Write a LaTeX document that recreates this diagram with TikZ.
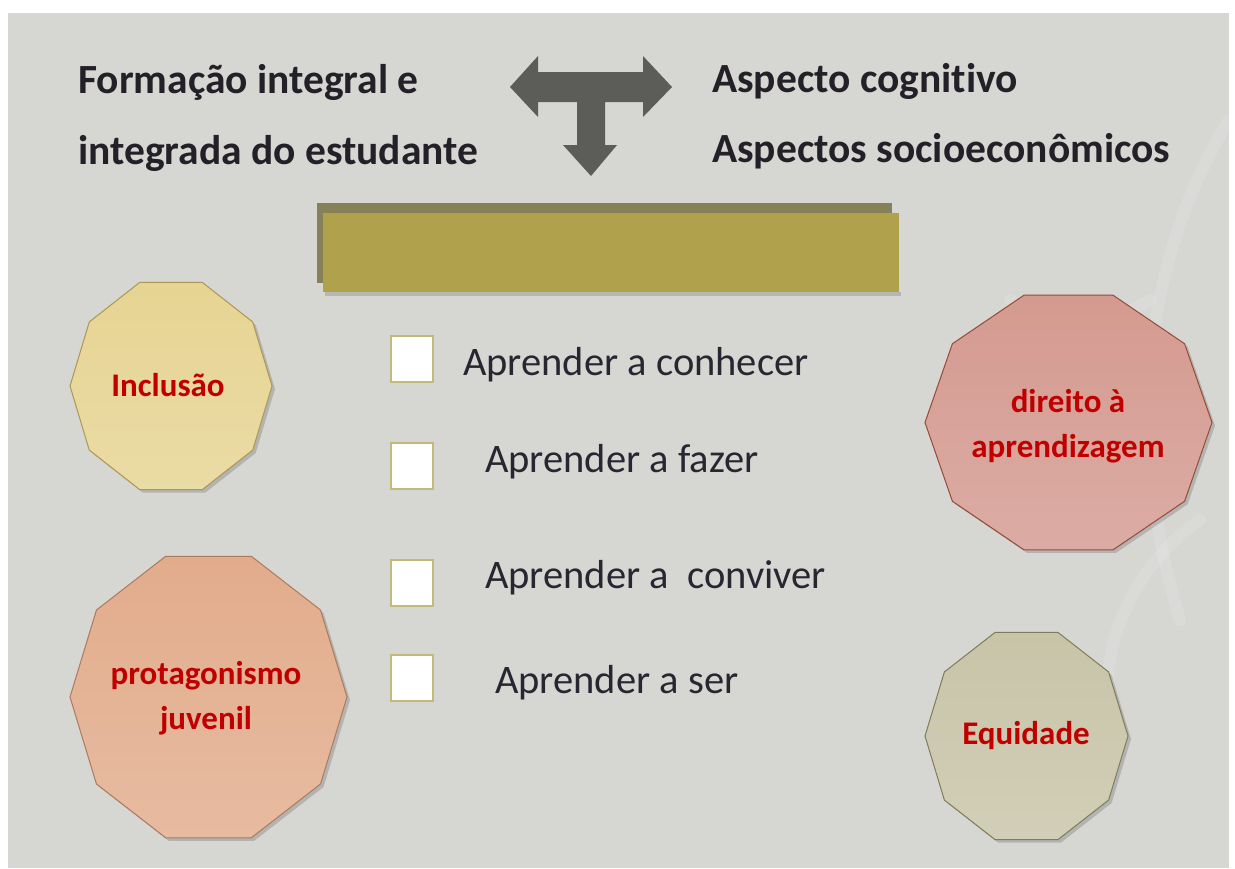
\documentclass[tikz,border=0pt]{standalone}
\usepackage{fontspec}
\setmainfont[Ligatures=NoCommon]{Carlito}
\definecolor{bgcol}{RGB}{214,214,211}
\definecolor{textdark}{RGB}{35,32,40}
\definecolor{itemdark}{RGB}{40,38,48}
\definecolor{arrowgray}{RGB}{92,92,88}
\definecolor{barback}{RGB}{134,129,88}
\definecolor{barfront}{RGB}{176,161,76}
\definecolor{labelred}{RGB}{192,0,0}
\definecolor{boxline}{RGB}{195,186,122}
\definecolor{incA}{RGB}{230,212,146}\definecolor{incL}{RGB}{172,152,84}
\definecolor{dirA}{RGB}{212,154,144}\definecolor{dirL}{RGB}{150,75,55}
\definecolor{proA}{RGB}{226,172,140}\definecolor{proL}{RGB}{172,122,92}
\definecolor{equA}{RGB}{200,196,168}\definecolor{equL}{RGB}{128,124,90}
\tikzset{
  headtext/.style={font=\fontsize{41.5}{49}\selectfont\bfseries, text=textdark, anchor=base west, inner sep=0pt},
  itemtext/.style={font=\fontsize{40.5}{48}\selectfont, text=itemdark, anchor=base west, inner sep=0pt},
  checkbox/.style={draw=boxline, line width=1.5pt, fill=white, minimum width=42pt, minimum height=46pt, anchor=north west, inner sep=0pt},
  polylabel/.style={font=\fontsize{33}{45}\selectfont\bfseries, text=labelred, align=center, inner sep=0pt},
}
\newcommand\mydecagon[6]{%
  \fill[black,opacity=0.16] plot[samples at={0,36,...,324}] ({#1+3+#3*cos(\x)},{#2+3+#4*sin(\x)}) -- cycle;
  \draw[line width=1pt, draw=#6, top color=#5, bottom color=#5!82!white] plot[samples at={0,36,...,324}] ({#1+#3*cos(\x)},{#2+#4*sin(\x)}) -- cycle;}
\begin{document}
\begin{tikzpicture}[x=1pt,y=-1pt]
\useasboundingbox (0,0) rectangle (1235,868);
\fill[white] (0,0) rectangle (1235,868);
\fill[bgcol] (8,13) rectangle (1229,868);
% faint light branches on the right
\begin{scope}[white,opacity=0.12,line width=12pt,line cap=round]
  \draw (1229,120) .. controls (1150,250) and (1120,420) .. (1180,620);
  \draw (1150,300) .. controls (1100,330) and (1060,330) .. (1010,300);
  \draw (1200,520) .. controls (1140,560) and (1100,640) .. (1110,700);
\end{scope}
% top texts
\node[headtext] (f1) at (78,93) {Formação integral e};
\node[headtext] (f2) at (78,164) {integrada do estudante};
\node[headtext] (a1) at (712,92) {Aspecto cognitivo};
\node[headtext] (a2) at (712,162) {Aspectos socioeconômicos};
% T-shaped three-way arrow
\fill[arrowgray] (510,87) -- (538,56) -- (538,72) -- (643,72) -- (643,56) -- (672,87)
  -- (643,117) -- (643,102) -- (605,102) -- (605,145) -- (617,145) -- (591,176)
  -- (563,145) -- (577,145) -- (577,102) -- (538,102) -- (538,117) -- cycle;
% bar
\fill[barback] (317,203) rectangle (892,283);
\fill[black,opacity=0.15] (325,292) rectangle (901,296);
\node[fill=barfront, minimum width=576pt, minimum height=79pt, anchor=north west, inner sep=0pt] (bar) at (323,213) {};
% decagons
\mydecagon{171}{386}{101}{109}{incA}{incL}
\mydecagon{1068.5}{422.5}{143.5}{134}{dirA}{dirL}
\mydecagon{208.5}{697}{138.5}{148}{proA}{proL}
\mydecagon{1026.5}{736}{101.5}{109}{equA}{equL}
\node[polylabel] (inc) at (168,385) {Inclusão};
\node[polylabel] (dir) at (1068,426) {direito à\\aprendizagem};
\node[polylabel] (pro) at (206,698) {protagonismo\\juvenil};
\node[polylabel] (equ) at (1026,736) {Equidade};
% checkboxes and items
\node[checkbox] (b1) at (390,335) {};
\node[checkbox] (b2) at (390,442) {};
\node[checkbox] (b3) at (390,559) {};
\node[checkbox] (b4) at (390,654) {};
\node[itemtext] (t1) at (463,375) {Aprender a conhecer};
\node[itemtext] (t2) at (485,472) {Aprender a fazer};
\node[itemtext] (t3) at (485,588) {Aprender a\ \ conviver};
\node[itemtext] (t4) at (495,693) {Aprender a ser};
\end{tikzpicture}
\end{document}
